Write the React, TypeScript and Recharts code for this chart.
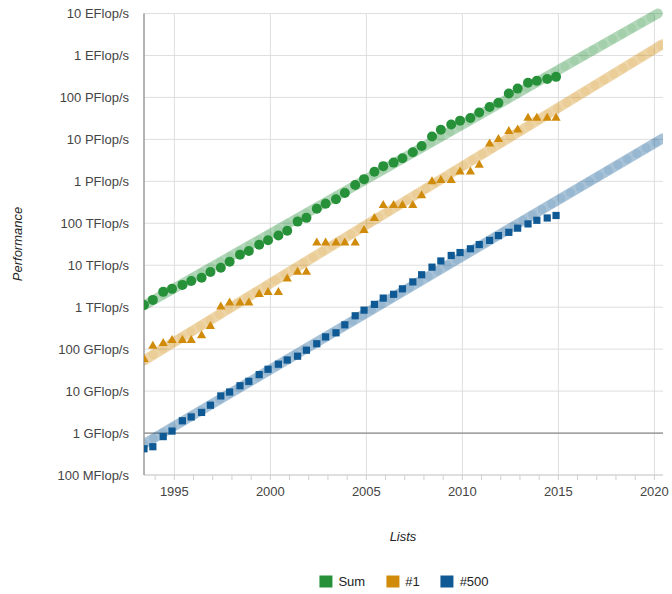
import {
  ComposedChart,
  Scatter,
  Line,
  XAxis,
  YAxis,
  CartesianGrid,
  ReferenceLine,
} from "recharts";

// TOP500 lists (June / November)
const lists = [
  "1993-06", "1993-11", "1994-06", "1994-11", "1995-06", "1995-11",
  "1996-06", "1996-11", "1997-06", "1997-11", "1998-06", "1998-11",
  "1999-06", "1999-11", "2000-06", "2000-11", "2001-06", "2001-11",
  "2002-06", "2002-11", "2003-06", "2003-11", "2004-06", "2004-11",
  "2005-06", "2005-11", "2006-06", "2006-11", "2007-06", "2007-11",
  "2008-06", "2008-11", "2009-06", "2009-11", "2010-06", "2010-11",
  "2011-06", "2011-11", "2012-06", "2012-11", "2013-06", "2013-11",
  "2014-06", "2014-11",
];

// values in GFlop/s
const sumPerf = [
  1128, 1493, 2317, 2732, 3397, 4192, 5007, 6920, 8690, 12070, 17880, 21930,
  30650, 39290, 51200, 66550, 109500, 134600, 222300, 292600, 374000, 527700,
  813100, 1127000, 1690000, 2300000, 2790000, 3540000, 4920000, 6970000,
  11700000, 16950000, 22600000, 27950000, 32400000, 43700000, 58880000,
  74200000, 123400000, 162000000, 223000000, 250000000, 274000000, 309000000,
];
const firstPerf = [
  59.7, 124, 143.4, 170, 170, 170, 220.4, 368.2, 1068, 1338, 1338, 1338, 2121,
  2379, 2379, 4938, 7226, 7226, 35860, 35860, 35860, 35860, 35860, 70720,
  136800, 280600, 280600, 280600, 280600, 478200, 1026000, 1105000, 1105000,
  1759000, 1759000, 2566000, 8162000, 10510000, 16324750, 17590000, 33862700,
  33862700, 33862700, 33862700,
];
const lastPerf = [
  0.422, 0.472, 0.822, 1.114, 1.963, 2.42, 3.1, 4.6, 7.67, 9.51, 13.4, 17.1,
  24.7, 33.1, 43.8, 55.1, 67.8, 94.3, 134.3, 195.8, 245.1, 380, 624, 850.6,
  1166, 1646, 2026, 2737, 4005, 5929, 9000, 12640, 17100, 20050, 24670, 31120,
  39100, 50900, 60800, 76500, 96600, 117800, 133700, 153400,
];

// projected trend lines (start / end)
const sumTrend = [
  { x: 1993.42, y: 1100 },
  { x: 2020.18, y: 1e10 },
];
const firstTrend = [
  { x: 1993.42, y: 54 },
  { x: 2020.42, y: 1.84e9 },
];
const lastTrend = [
  { x: 1993.42, y: 0.55 },
  { x: 2020.42, y: 1.05e7 },
];

const yTicks = [0.1, 1, 10, 100, 1e3, 1e4, 1e5, 1e6, 1e7, 1e8, 1e9, 1e10];
const yTickLabels = [
  "100 MFlop/s", "1 GFlop/s", "10 GFlop/s", "100 GFlop/s", "1 TFlop/s",
  "10 TFlop/s", "100 TFlop/s", "1 PFlop/s", "10 PFlop/s", "100 PFlop/s",
  "1 EFlop/s", "10 EFlop/s",
];
const xTicks = [
  1994, 1995, 1996, 1997, 1998, 1999, 2000, 2001, 2002, 2003, 2004, 2005,
  2006, 2007, 2008, 2009, 2010, 2011, 2012, 2013, 2014, 2015, 2016, 2017,
  2018, 2019, 2020,
];
const gridYears = [1995, 2000, 2005, 2010, 2015, 2020];

const seriesNames = ["Sum", "#1", "#500"];
const colors = ["#27913a", "#d08b0b", "#0f5a94"];

const FONT = '"Liberation Sans", Arial, sans-serif';

function listToYear(s: string) {
  const [y, m] = s.split("-").map(Number);
  return y + (m === 6 ? 0.42 : 0.88);
}

function toPoints(values: number[]) {
  return values.map((v, i) => ({ x: listToYear(lists[i]), y: v }));
}

const sumData = toPoints(sumPerf);
const firstData = toPoints(firstPerf);
const lastData = toPoints(lastPerf);

const CircleDot = (p: any) => (
  <circle cx={p.cx} cy={p.cy} r={5} fill={colors[0]} />
);
const TriangleDot = (p: any) => (
  <polygon
    points={`${p.cx},${p.cy - 4.5} ${p.cx + 4.6},${p.cy + 3.5} ${p.cx - 4.6},${p.cy + 3.5}`}
    fill={colors[1]}
  />
);
const SquareDot = (p: any) => (
  <rect x={p.cx - 3.6} y={p.cy - 3.6} width={7.2} height={7.2} fill={colors[2]} />
);

const XTick = ({ x, y, payload }: any) =>
  payload.value % 5 === 0 ? (
    <text x={x} y={y} dy={16} textAnchor="middle" fill="#444" fontSize={13} fontFamily={FONT}>
      {payload.value}
    </text>
  ) : (
    <g />
  );

function trend(data: any[], color: string, key: string) {
  return [
    <Line
      key={key + "-band"}
      data={data}
      dataKey="y"
      stroke={color}
      strokeOpacity={0.36}
      strokeWidth={10}
      strokeLinecap="round"
      dot={false}
      activeDot={false}
      legendType="none"
      isAnimationActive={false}
    />,
    <Line
      key={key + "-dots"}
      data={data}
      dataKey="y"
      stroke={color}
      strokeOpacity={0.1}
      strokeWidth={9}
      strokeLinecap="round"
      strokeDasharray="0 11"
      dot={false}
      activeDot={false}
      legendType="none"
      isAnimationActive={false}
    />,
  ];
}

export default function App() {
  return (
    <div
      style={{
        position: "absolute",
        left: 0,
        top: 0,
        width: 672,
        height: 594,
        background: "#fff",
        fontFamily: FONT,
        overflow: "hidden",
      }}
    >
      <ComposedChart
        width={672}
        height={594}
        margin={{ top: 13.5, right: 9, bottom: 89, left: 0 }}
      >
        <CartesianGrid vertical={false} stroke="#dedede" />
        {gridYears.map((yr) => (
          <ReferenceLine key={yr} x={yr} stroke="#dedede" />
        ))}
        <ReferenceLine y={1} stroke="#8a8a8a" strokeWidth={1.2} />
        <XAxis
          type="number"
          dataKey="x"
          domain={[1993.42, 2020.45]}
          allowDataOverflow
          ticks={xTicks}
          interval={0}
          height={30}
          tickSize={5}
          tickMargin={0}
          tick={<XTick />}
          axisLine={{ stroke: "#cfcfcf" }}
          tickLine={{ stroke: "#cfcfcf" }}
        />
        <YAxis
          type="number"
          dataKey="y"
          scale="log"
          domain={[0.1, 1e10]}
          ticks={yTicks}
          interval={0}
          width={144}
          tickLine={false}
          tickMargin={9}
          tickFormatter={(v: number) => yTickLabels[yTicks.indexOf(v)]}
          tick={{ fill: "#444", fontSize: 13, fontFamily: FONT }}
          axisLine={{ stroke: "#9a9a9a", strokeWidth: 1.5 }}
        />
        {trend(sumTrend, colors[0], "sum")}
        {trend(firstTrend, colors[1], "first")}
        {trend(lastTrend, colors[2], "last")}
        <Scatter name={seriesNames[0]} data={sumData} fill={colors[0]} shape={<CircleDot />} isAnimationActive={false} />
        <Scatter name={seriesNames[1]} data={firstData} fill={colors[1]} shape={<TriangleDot />} isAnimationActive={false} />
        <Scatter name={seriesNames[2]} data={lastData} fill={colors[2]} shape={<SquareDot />} isAnimationActive={false} />
      </ComposedChart>

      <div
        style={{
          position: "absolute",
          left: 17,
          top: 244,
          transform: "translate(-50%, -50%) rotate(-90deg)",
          fontStyle: "italic",
          fontSize: 13,
          color: "#222",
          whiteSpace: "nowrap",
        }}
      >
        Performance
      </div>
      <div
        style={{
          position: "absolute",
          left: 403,
          top: 536,
          transform: "translate(-50%, -50%)",
          fontStyle: "italic",
          fontSize: 13,
          color: "#222",
        }}
      >
        Lists
      </div>
      <div
        style={{
          position: "absolute",
          left: 404,
          top: 581,
          transform: "translate(-50%, -50%)",
          display: "flex",
          alignItems: "center",
          fontSize: 13,
          color: "#222",
          whiteSpace: "nowrap",
        }}
      >
        {seriesNames.map((n, i) => (
          <div key={n} style={{ display: "flex", alignItems: "center", marginRight: i < 2 ? 21 : 0 }}>
            <span style={{ width: 13, height: 12, background: colors[i], marginRight: 6, display: "inline-block" }} />
            <span>{n}</span>
          </div>
        ))}
      </div>
    </div>
  );
}
